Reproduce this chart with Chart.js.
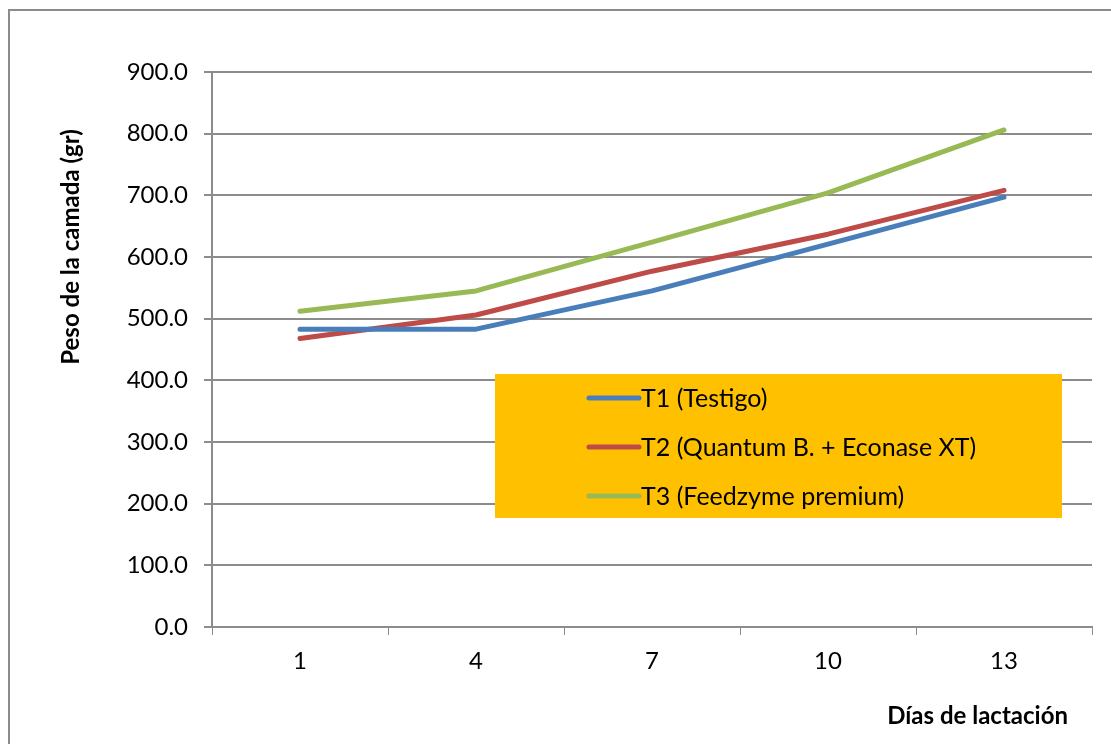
<!DOCTYPE html>
<html lang="es">
<head>
<meta charset="utf-8">
<title>Peso de la camada</title>
<script src="https://cdn.jsdelivr.net/npm/chart.js@4/dist/chart.umd.min.js"></script>
<style>
    html, body {
        margin: 0;
        padding: 0;
        background: #ffffff;
    }
    .chart-wrap {
        position: relative;
        width: 1111px;
        height: 744px;
    }
</style>
</head>
<body>
<div class="chart-wrap">
    <canvas id="litterWeightChart" width="1111" height="744"></canvas>
</div>
<script>
const days = ['1', '4', '7', '10', '13'];
const seriesNames = ['T1 (Testigo)', 'T2 (Quantum B. + Econase XT)', 'T3 (Feedzyme premium)'];
const t1Values = [483, 483, 545, 621, 697];
const t2Values = [468, 506, 577, 637, 708];
const t3Values = [512, 545, 624, 704, 806];
const seriesColors = ['#4a7ebb', '#be4b48', '#98b954'];

const yTitle = 'Peso de la camada (gr)';
const xTitle = 'Días de lactación';

const fontFamily = 'Lato, "Open Sans", "Liberation Sans", sans-serif';
const axisGrey = '#8c8c8c';

document.addEventListener('DOMContentLoaded', () => {
    initLitterChart();
});

// frame, axis titles and the orange legend box are drawn by hand
const decorPlugin = {
    id: 'decor',
    beforeDraw(chart) {
        const ctx = chart.ctx;
        ctx.save();
        ctx.strokeStyle = axisGrey;
        ctx.lineWidth = 2;
        ctx.strokeRect(9, 10, chart.width + 20, chart.height + 20);
        ctx.restore();
    },
    afterDraw(chart) {
        const ctx = chart.ctx;
        const area = chart.chartArea;
        ctx.save();

        ctx.fillStyle = '#000000';
        ctx.font = `bold 24px ${fontFamily}`;
        ctx.textBaseline = 'middle';

        ctx.save();
        ctx.translate(71, 247);
        ctx.rotate(-Math.PI / 2);
        ctx.textAlign = 'center';
        ctx.fillText(yTitle, 0, 0);
        ctx.restore();

        ctx.textAlign = 'right';
        ctx.fillText(xTitle, area.right - 24, 716);

        // legend
        const box = { x: 495, y: 374, w: 567, h: 144 };
        ctx.fillStyle = '#ffc000';
        ctx.fillRect(box.x, box.y, box.w, box.h);

        ctx.font = `25px ${fontFamily}`;
        ctx.textAlign = 'left';
        chart.data.datasets.forEach((ds, i) => {
            const rowY = box.y + 24 + i * 49;
            ctx.strokeStyle = ds.borderColor;
            ctx.lineWidth = 5;
            ctx.lineCap = 'round';
            ctx.beginPath();
            ctx.moveTo(589, rowY);
            ctx.lineTo(639, rowY);
            ctx.stroke();
            ctx.fillStyle = '#000000';
            ctx.fillText(ds.label, 641, rowY + 1);
        });

        ctx.restore();
    },
};

function initLitterChart() {
    if (typeof Chart === 'undefined') {
        return;
    }

    const canvas = document.getElementById('litterWeightChart');
    if (!canvas) {
        return;
    }

    const valueSets = [t1Values, t2Values, t3Values];

    new Chart(canvas, {
        type: 'line',
        data: {
            labels: days,
            datasets: valueSets.map((values, i) => ({
                label: seriesNames[i],
                data: values,
                borderColor: seriesColors[i],
                backgroundColor: seriesColors[i],
                borderWidth: 5,
                borderCapStyle: 'round',
                borderJoinStyle: 'round',
                pointRadius: 0,
                tension: 0,
                fill: false,
            })),
        },
        options: {
            responsive: false,
            animation: false,
            layout: {
                padding: { left: 0, right: 19, top: 72, bottom: 0 },
            },
            plugins: {
                legend: { display: false },
                tooltip: { enabled: false },
            },
            scales: {
                x: {
                    offset: true,
                    grid: {
                        offset: true,
                        drawOnChartArea: false,
                        color: axisGrey,
                        tickLength: 8,
                    },
                    border: { color: axisGrey, width: 2 },
                    ticks: {
                        color: '#000000',
                        padding: 12,
                        font: { family: fontFamily, size: 24 },
                    },
                    afterFit: (scale) => {
                        scale.height = 117;
                    },
                },
                y: {
                    min: 0,
                    max: 900,
                    ticks: {
                        stepSize: 100,
                        color: '#000000',
                        padding: 16,
                        font: { family: fontFamily, size: 24 },
                        callback: (value) => Number(value).toFixed(1),
                    },
                    grid: {
                        color: axisGrey,
                        lineWidth: 2,
                        tickLength: 8,
                    },
                    border: { color: axisGrey, width: 2 },
                    afterFit: (scale) => {
                        scale.width = 212;
                    },
                },
            },
        },
        plugins: [decorPlugin],
    });
}
</script>
</body>
</html>
